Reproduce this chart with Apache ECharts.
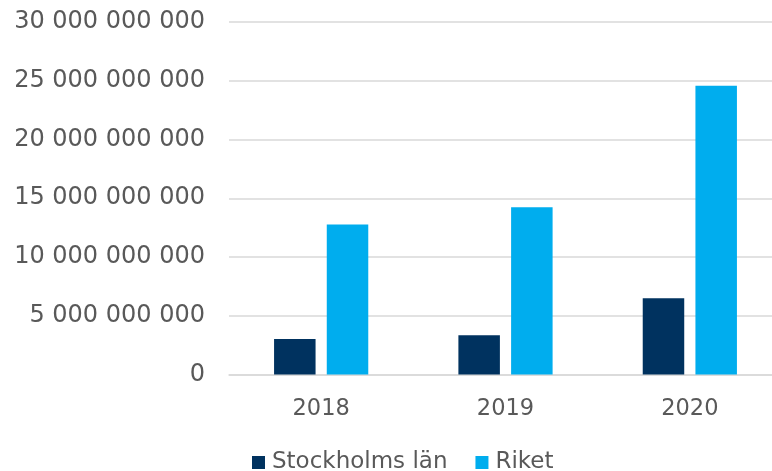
<!DOCTYPE html>
<html>
<head>
<meta charset="utf-8">
<script src="https://cdn.jsdelivr.net/npm/echarts@6/dist/echarts.min.js"></script>
<style>
  html, body { margin: 0; padding: 0; background: #fff; }
  #main { width: 772px; height: 471px; }
</style>
</head>
<body>
<div id="main"></div>
<script>
var years = ['2018', '2019', '2020'];
var stockholm = [3030000000, 3350000000, 6480000000];
var riket = [12770000000, 14230000000, 24570000000];

var textColor = '#595959';
var fontFamily = 'DejaVu Sans, Verdana, sans-serif';

function fmt(v) {
	return String(v).replace(/\B(?=(\d{3})+(?!\d))/g, ' ');
}

var myChart = echarts.init(document.getElementById('main'));

var option = {
	backgroundColor: '#ffffff',
	animation: false,
	grid: {
		left: 229,
		top: 22,
		width: 553,
		height: 352.5,
		containLabel: false,
		outerBoundsMode: 'none'
	},
	legend: {
		left: 247,
		top: 446,
		itemWidth: 13,
		itemHeight: 13,
		itemGap: 28,
		icon: 'rect',
		textStyle: {
			color: textColor,
			fontSize: 23,
			fontFamily: fontFamily,
			padding: [0, 0, 0, 2]
		},
		data: ['Stockholms län', 'Riket']
	},
	xAxis: {
		type: 'category',
		data: years,
		axisLine: { lineStyle: { color: '#d9d9d9', width: 1.5 } },
		axisTick: { show: false },
		axisLabel: {
			color: textColor,
			fontSize: 22.5,
			fontFamily: fontFamily,
			margin: 23
		}
	},
	yAxis: {
		type: 'value',
		min: 0,
		max: 30000000000,
		interval: 5000000000,
		axisLine: { show: false },
		axisTick: { show: false },
		splitLine: { lineStyle: { color: '#d9d9d9', width: 1.5 } },
		axisLabel: {
			color: textColor,
			fontSize: 24,
			fontFamily: fontFamily,
			margin: 24,
			formatter: fmt
		}
	},
	series: [{
		name: 'Stockholms län',
		type: 'bar',
		data: stockholm,
		barWidth: 41.5,
		barGap: '27%',
		itemStyle: { color: '#00325f' }
	}, {
		name: 'Riket',
		type: 'bar',
		data: riket,
		barWidth: 41.5,
		barGap: '27%',
		itemStyle: { color: '#00adee' }
	}]
};
myChart.setOption(option);
</script>
</body>
</html>
